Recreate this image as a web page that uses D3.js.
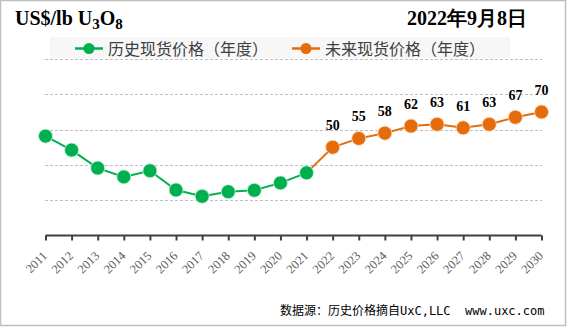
<!DOCTYPE html>
<html>
<head>
<meta charset="utf-8">
<script src="https://cdn.jsdelivr.net/npm/d3@7"></script>
<style>
  html, body { margin: 0; padding: 0; background: #fff; }
  svg { display: block; }
</style>
</head>
<body>
<svg id="chart" width="567" height="327"></svg>
<script>
// Annual uranium spot price, US$/lb U3O8
const histYears = [2011, 2012, 2013, 2014, 2015, 2016, 2017, 2018, 2019, 2020, 2021];
const histValues = [56.3, 48.4, 38.2, 33.2, 36.7, 25.8, 22.2, 24.8, 25.6, 29.8, 35.5];
const futureYears = [2021, 2022, 2023, 2024, 2025, 2026, 2027, 2028, 2029, 2030];
const futureValues = [35.5, 50, 55, 58, 62, 63, 61, 63, 67, 70];
const allYears = [2011, 2012, 2013, 2014, 2015, 2016, 2017, 2018, 2019, 2020,
                  2021, 2022, 2023, 2024, 2025, 2026, 2027, 2028, 2029, 2030];
const yTicks = [20, 40, 60, 80, 100];
const legendLabels = ["历史现货价格（年度）", "未来现货价格（年度）"];

const GREEN = "#00b050", ORANGE = "#e46c0a";
const serif = "'Liberation Serif','Times New Roman',serif";
const cjk = "'Noto Sans CJK SC','Noto Sans',sans-serif";

const svg = d3.select("#chart");

// outer frame
svg.append("rect").attr("x", 0.5).attr("y", 0.5).attr("width", 565).attr("height", 325)
  .attr("fill", "#fff").attr("stroke", "#bfbfbf").attr("stroke-width", 1.5);

const x = d3.scalePoint().domain(allYears).range([45.5, 541.5]);
const y = d3.scaleLinear().domain([0, 100]).range([235.5, 59]);

// legend background
svg.append("rect").attr("x", 50).attr("y", 37).attr("width", 460).attr("height", 21).attr("fill", "#f7f7f7");

// horizontal grid
svg.append("g").selectAll("line").data(yTicks).join("line")
  .attr("x1", 45).attr("x2", 542)
  .attr("y1", d => Math.round(y(d)) + 0.5).attr("y2", d => Math.round(y(d)) + 0.5)
  .attr("stroke", "#bfbfbf").attr("stroke-width", 1).attr("stroke-dasharray", "3,2");

// x axis
const xAxis = svg.append("g").attr("transform", `translate(0,${y(0)})`)
  .call(d3.axisBottom(x).tickSize(5).tickSizeOuter(0).tickFormat(d => String(d)));
xAxis.select(".domain").attr("stroke", "#404040").attr("stroke-width", 2.2)
  .attr("d", `M${x(2011)},0H${x(2030)}`);
xAxis.selectAll(".tick line").attr("stroke", "#404040").attr("stroke-width", 2);
xAxis.selectAll(".tick text")
  .attr("font-family", serif).attr("font-size", 12.5).attr("fill", "#595959")
  .attr("text-anchor", "end").attr("dy", null).attr("y", 0).attr("x", 0)
  .attr("transform", "translate(2,21) rotate(-45)");

const line = d3.line().x(d => x(d[0])).y(d => y(d[1]));
const hist = histYears.map((yr, i) => [yr, histValues[i]]);
const fut = futureYears.map((yr, i) => [yr, futureValues[i]]);

svg.append("path").datum(fut).attr("d", line).attr("fill", "none")
  .attr("stroke", ORANGE).attr("stroke-width", 2);
svg.append("path").datum(hist).attr("d", line).attr("fill", "none")
  .attr("stroke", GREEN).attr("stroke-width", 2);

svg.append("g").selectAll("circle").data(hist).join("circle")
  .attr("cx", d => x(d[0])).attr("cy", d => y(d[1])).attr("r", 7)
  .attr("fill", GREEN).attr("stroke", "#c8f0d8").attr("stroke-width", 0.8);
svg.append("g").selectAll("circle").data(fut.slice(1)).join("circle")
  .attr("cx", d => x(d[0])).attr("cy", d => y(d[1])).attr("r", 7)
  .attr("fill", ORANGE).attr("stroke", "#fbd9bc").attr("stroke-width", 0.8);

// value labels on the projected years
svg.append("g").selectAll("text").data(fut.slice(1)).join("text")
  .attr("x", d => x(d[0])).attr("y", d => y(d[1]) - 17)
  .attr("text-anchor", "middle").attr("font-family", serif).attr("font-weight", "bold")
  .attr("font-size", 14).attr("fill", "#000").text(d => d[1]);

// legend
const legend = [
  { color: GREEN, x0: 75, label: legendLabels[0] },
  { color: ORANGE, x0: 292, label: legendLabels[1] }
];
const lg = svg.append("g").selectAll("g").data(legend).join("g");
lg.append("line").attr("x1", d => d.x0).attr("x2", d => d.x0 + 28)
  .attr("y1", 48.5).attr("y2", 48.5).attr("stroke", d => d.color).attr("stroke-width", 2.5);
lg.append("circle").attr("cx", d => d.x0 + 14).attr("cy", 48.5).attr("r", 5.5).attr("fill", d => d.color);
lg.append("text").attr("x", d => d.x0 + 33).attr("y", 55)
  .attr("font-family", cjk).attr("font-size", 16).attr("fill", "#404040").text(d => d.label);

// titles
const t = svg.append("text").attr("x", 15).attr("y", 25)
  .attr("font-family", serif).attr("font-weight", "bold").attr("font-size", 20).attr("fill", "#000");
t.append("tspan").text("US$/lb U");
t.append("tspan").attr("font-size", 15).attr("dy", 4).text("3");
t.append("tspan").attr("dy", -4).text("O");
t.append("tspan").attr("font-size", 15).attr("dy", 4).text("8");

svg.append("text").attr("x", 527).attr("y", 25).attr("text-anchor", "end")
  .attr("font-family", serif).attr("font-weight", "bold").attr("font-size", 20).attr("fill", "#000")
  .text("2022年9月8日");

// source note
svg.append("text").attr("x", 280).attr("y", 315)
  .attr("font-family", "'DejaVu Sans Mono','Noto Sans CJK SC',monospace").attr("font-size", 12)
  .attr("fill", "#000").attr("xml:space", "preserve").style("white-space", "pre")
  .text("数据源：历史价格摘自UxC,LLC  www.uxc.com");
</script>
</body>
</html>
